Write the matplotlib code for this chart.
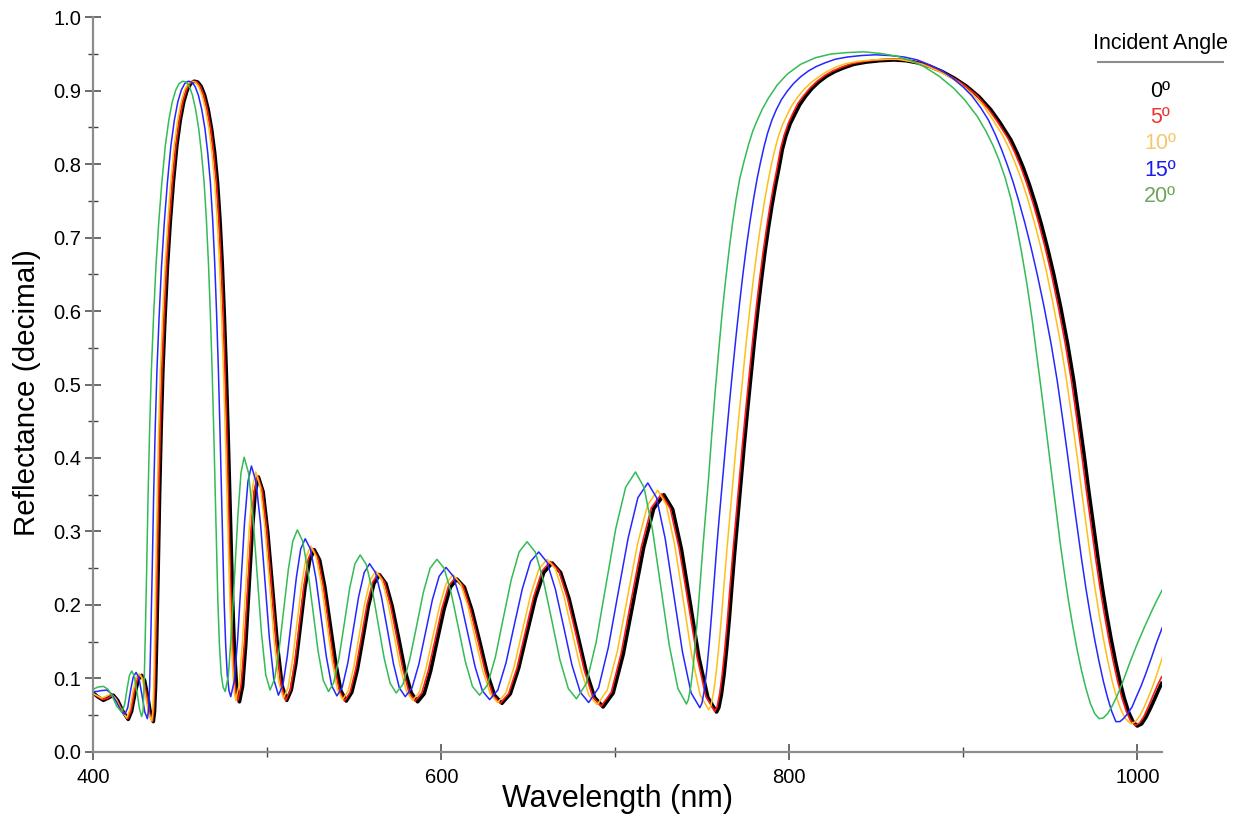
'''Reflectance vs wavelength for several incident angles.'''

from matplotlib import pyplot as plt
from matplotlib.lines import Line2D
from matplotlib.ticker import MultipleLocator, FormatStrFormatter

plt.rcParams['font.family'] = ['Liberation Sans', 'DejaVu Sans']

# ----------------------------------------------------------------------------
# Data (wavelength nm, reflectance)

angle_labels = ['0º', '5º', '10º', '15º', '20º']
line_colors = ['#000000', '#ff1a1a', '#ffbf1a', '#2626ff', '#33bb55']
text_colors = ['#000000', '#ee3333', '#f5c86a', '#1a1aee', '#6fa55a']
line_widths = [2.6, 1.2, 1.1, 1.1, 1.1]

refl_00 = [
    (400, .080), (402.5, .075), (405.8, .070), (408.5, .073), (411.5, .077),
    (414, .070), (417, .055), (420.1, .044), (422, .055), (424, .080),
    (426, .099), (427.8, .104), (429.5, .097), (431.5, .072), (433, .050),
    (434.5, .041),
    (435.2, .055), (435.8, .09), (436.5, .16), (437.3, .25), (438.1, .35),
    (439, .44), (440, .52), (441.2, .59), (442.6, .66), (444.2, .72),
    (446, .775), (448, .825), (450, .860), (452, .885), (454, .901),
    (456, .910), (458, .913), (460, .912), (462, .906), (464, .894),
    (466, .875), (468, .848), (469.8, .815), (471.4, .775), (472.8, .725),
    (474.1, .665), (475.3, .595), (476.4, .52), (477.4, .44), (478.3, .36),
    (479.2, .28), (480.1, .205), (481.1, .14), (482.2, .095), (483.2, .074),
    (484, .068),
    (485.8, .089), (487.6, .145), (489.45, .221), (491.3, .298), (493.1, .354),
    (494.9, .374),
    (497.6, .354), (500.3, .298), (503.05, .222), (505.8, .146), (508.5, .090),
    (511.2, .070),
    (513.8, .084), (516.5, .121), (519.1, .173), (521.7, .224), (524.4, .261),
    (527, .275),
    (530.1, .261), (533.1, .224), (536.2, .172), (539.3, .121), (542.3, .083),
    (545.4, .069),
    (548.6, .081), (551.8, .112), (555.0, .155), (558.1, .198), (561.3, .229),
    (564.5, .241),
    (568.2, .229), (571.8, .198), (575.5, .155), (579.1, .111), (582.8, .080),
    (586.4, .068),
    (590.2, .079), (593.9, .110), (597.7, .152), (601.5, .193), (605.2, .224),
    (609, .235),
    (613.3, .224), (617.6, .193), (622.0, .151), (626.3, .108), (630.6, .077),
    (634.9, .066),
    (639.7, .079), (644.5, .114), (649.3, .162), (654.1, .209), (658.9, .244),
    (663.7, .257),
    (668.6, .244), (673.5, .208), (678.4, .159), (683.2, .110), (688.1, .074),
    (693, .061),
    (698.8, .080), (704.6, .133), (710.5, .206), (716.3, .278), (722.1, .331),
    (727.9, .350),
    (733.0, .330), (738.0, .276), (743.1, .202), (748.1, .128), (753.2, .074),
    (758.2, .054),
    (759.5, .060), (761, .078), (762.5, .105), (764, .140), (765.5, .180),
    (767, .225), (768.5, .268), (770, .308), (772, .36), (774, .415),
    (776, .465), (778, .513), (780, .56), (782, .603), (784, .643),
    (786, .68), (788, .713), (790, .743), (792, .770), (794, .794),
    (796, .820), (798, .838), (800.5, .855), (803, .867), (806, .881),
    (809.5, .893), (813, .903), (817, .912), (821.5, .920), (826, .926),
    (831, .931), (837, .936), (844, .939), (852, .941), (860, .942),
    (867, .941), (874, .938), (881, .933), (888, .926), (895, .917),
    (902, .906), (909, .892), (915.9, .874), (921, .857), (927.4, .833),
    (931, .815), (934.5, .795), (938, .772), (941.5, .746), (945, .717),
    (948.5, .685), (952, .650), (956, .605), (960, .555), (963.5, .505),
    (966.5, .455), (969.5, .403), (972.4, .350), (975, .305), (977.5, .262),
    (980, .222), (982.5, .186), (985, .153), (987.5, .123), (990, .096),
    (992.5, .073), (995, .054), (997.5, .041), (1000, .035), (1002.5, .038),
    (1005, .047), (1007.5, .059), (1010, .072), (1012, .083), (1014, .093),
]

refl_05 = [
    (400, .079), (402.5, .075), (405.5, .071), (408.2, .073), (411, .077),
    (413.7, .070), (416.7, .056), (419.8, .045), (421.7, .056), (423.6, .081),
    (425.5, .100), (427.3, .105), (429, .098), (431, .073), (432.5, .051),
    (434, .041),
    (434.7, .055), (435.3, .09), (436, .16), (436.8, .25), (437.6, .35),
    (438.5, .44), (439.5, .52), (440.7, .59), (442.1, .66), (443.7, .72),
    (445.5, .775), (447.5, .825), (449.5, .860), (451.5, .885), (453.5, .901),
    (455.5, .910), (457.5, .913), (459.5, .912), (461.5, .906), (463.5, .894),
    (465.5, .875), (467.5, .848), (469.2, .815), (470.8, .775), (472.2, .725),
    (473.5, .665), (474.7, .595), (475.7, .52), (476.7, .44), (477.5, .36),
    (478.4, .28), (479.2, .205), (480.2, .14), (481.2, .097), (482.2, .076),
    (483, .069),
    (484.9, .090), (486.8, .146), (488.7, .223), (490.6, .299), (492.5, .355),
    (494.4, .376),
    (497.1, .356), (499.8, .300), (502.5, .223), (505.2, .147), (507.9, .091),
    (510.6, .070),
    (513.2, .084), (515.8, .122), (518.4, .174), (521, .225), (523.6, .263),
    (526.2, .277),
    (529.2, .263), (532.3, .225), (535.3, .173), (538.3, .121), (541.4, .083),
    (544.4, .069),
    (547.6, .081), (550.9, .113), (554.1, .156), (557.3, .200), (560.6, .231),
    (563.8, .243),
    (567.3, .231), (570.8, .200), (574.4, .156), (577.9, .113), (581.4, .081),
    (584.9, .069),
    (588.8, .080), (592.6, .111), (596.5, .153), (600.4, .195), (604.2, .226),
    (608.1, .237),
    (612.4, .226), (616.7, .194), (621, .152), (625.3, .109), (629.6, .077),
    (633.9, .066),
    (638.7, .079), (643.5, .114), (648.3, .163), (653.1, .211), (657.9, .246),
    (662.7, .259),
    (667.6, .246), (672.4, .210), (677.3, .161), (682.2, .111), (687.0, .075),
    (691.9, .062),
    (697.7, .081), (703.4, .134), (709.2, .207), (715, .279), (720.7, .332),
    (726.5, .351),
    (731.6, .331), (736.7, .277), (741.9, .203), (747, .129), (752.1, .075),
    (757.2, .055),
    (758.5, .061), (760, .079), (761.5, .106), (763, .141), (764.5, .181),
    (766, .226), (767.5, .269), (769, .309), (771, .361), (773, .416),
    (775, .466), (777, .514), (779, .561), (781, .604), (783, .644),
    (785, .681), (787, .714), (789, .744), (791, .771), (793, .795),
    (795, .821), (797, .839), (799.5, .856), (802, .869), (805, .883),
    (808.5, .894), (812, .904), (816, .913), (820.5, .921), (825, .927),
    (830, .932), (836, .937), (843, .940), (851, .942), (859, .943),
    (866, .942), (873, .939), (880, .934), (887, .927), (894, .918),
    (901, .907), (908, .893), (914.5, .875), (919.6, .858), (926, .834),
    (929.6, .816), (933.1, .796), (936.6, .773), (940.1, .747), (943.6, .718),
    (947.1, .686), (950.6, .651), (954.6, .606), (958.6, .556), (962.1, .506),
    (965.1, .456), (968.1, .404), (971, .351), (973.6, .306), (976.1, .263),
    (978.6, .223), (981.1, .187), (983.6, .154), (986.1, .124), (988.6, .097),
    (991.1, .074), (993.7, .055), (996.2, .042), (998.8, .036), (1001.3, .039),
    (1003.8, .048), (1006.3, .061), (1008.8, .075), (1011.3, .089), (1014, .102),
]

refl_10 = [
    (400, .079), (402.5, .076), (405, .073), (407.7, .076), (410.4, .079),
    (413, .072), (416, .057), (419.2, .046), (421, .057), (422.8, .082),
    (424.7, .101), (426.5, .106), (428.2, .099), (430.2, .074), (431.8, .052),
    (433.6, .042),
    (434.2, .055), (434.8, .09), (435.3, .16), (436, .25), (436.8, .35),
    (437.6, .44), (438.6, .52), (439.8, .59), (441.2, .66), (442.8, .72),
    (444.5, .775), (446.5, .825), (448.5, .860), (450.5, .885), (452.5, .901),
    (454.5, .910), (456.5, .913), (458.5, .912), (460.5, .906), (462.5, .894),
    (464.5, .875), (466.5, .848), (468.2, .815), (469.8, .775), (471.2, .725),
    (472.5, .665), (473.7, .595), (474.8, .52), (475.8, .44), (476.7, .36),
    (477.6, .28), (478.5, .205), (479.4, .145), (480.3, .104), (481.1, .080),
    (481.9, .070),
    (483.8, .091), (485.7, .148), (487.65, .226), (489.6, .303), (491.5, .360),
    (493.4, .381),
    (496.05, .360), (498.7, .304), (501.35, .227), (504, .150), (506.65, .094),
    (509.3, .073),
    (511.9, .087), (514.5, .125), (517.15, .177), (519.8, .228), (522.4, .266),
    (525, .280),
    (528.05, .266), (531.1, .228), (534.15, .176), (537.2, .124), (540.25, .085),
    (543.3, .071),
    (546.5, .083), (549.7, .115), (552.85, .159), (556, .202), (559.2, .234),
    (562.4, .246),
    (565.9, .234), (569.4, .202), (572.95, .158), (576.5, .114), (580, .082),
    (583.5, .070),
    (587.4, .081), (591.2, .113), (595.1, .156), (599, .198), (602.8, .229),
    (606.7, .241),
    (611, .229), (615.3, .198), (619.55, .154), (623.8, .111), (628.1, .079),
    (632.4, .067),
    (637.1, .080), (641.9, .116), (646.6, .165), (651.3, .213), (656.1, .249),
    (660.8, .262),
    (665.6, .249), (670.4, .213), (675.2, .163), (680, .114), (684.8, .077),
    (689.6, .064),
    (695.4, .084), (701.2, .137), (707, .210), (712.8, .283), (718.6, .336),
    (724.4, .356),
    (729.3, .336), (734.2, .281), (739.05, .207), (743.9, .132), (748.8, .077),
    (753.7, .057),
    (755, .063), (756.5, .081), (758, .108), (759.5, .143), (761, .183),
    (762.5, .228), (764, .271), (765.5, .311), (767.5, .363), (769.5, .418),
    (771.5, .468), (773.5, .516), (775.5, .563), (777.5, .606), (779.5, .646),
    (781.5, .683), (783.5, .716), (785.5, .746), (787.5, .773), (789.5, .797),
    (791.5, .818), (793.5, .836), (796, .853), (798.5, .866), (801.5, .880),
    (805, .892), (808.5, .902), (812.5, .911), (817, .919), (821.5, .926),
    (826.5, .932), (832.5, .937), (839.5, .940), (847.5, .942), (855.5, .943),
    (862.5, .943), (869.5, .940), (876.5, .936), (883.5, .929), (890.5, .921),
    (897.5, .911), (904.5, .897), (911.5, .880), (916.6, .862), (923, .838),
    (926.6, .820), (930.1, .800), (933.6, .778), (937.1, .752), (940.6, .723),
    (944.1, .691), (947.6, .656), (951.6, .610), (955.6, .560), (959.1, .510),
    (962.1, .460), (965.1, .408), (968, .355), (970.6, .309), (973.1, .265),
    (975.6, .224), (978.1, .187), (980.6, .153), (983.1, .123), (985.6, .096),
    (988.1, .074), (990.6, .057), (993.2, .045), (996.3, .038), (999, .041),
    (1001.5, .049), (1004, .061), (1006.5, .075), (1009, .090), (1011.5, .107),
    (1014.5, .129),
]

refl_15 = [
    (400, .082), (402, .082), (404, .083), (407.7, .084), (410.5, .079),
    (413.5, .067), (416, .056), (418.2, .051), (419.8, .060), (421.4, .083),
    (423, .102), (424.6, .108), (426.2, .101), (428, .077), (429.6, .054),
    (431.1, .045),
    (431.8, .058), (432.4, .09), (433.1, .16), (433.9, .25), (434.7, .35),
    (435.6, .44), (436.6, .52), (437.8, .59), (439.2, .66), (440.8, .72),
    (442.6, .775), (444.6, .825), (446.6, .860), (448.6, .885), (450.6, .901),
    (452.6, .910), (454.6, .913), (456.6, .912), (458.5, .906), (460.4, .894),
    (462.3, .875), (464.2, .848), (465.8, .815), (467.3, .775), (468.6, .725),
    (469.8, .665), (470.9, .595), (471.9, .52), (472.8, .44), (473.6, .36),
    (474.4, .28), (475.2, .205), (476.1, .145), (477, .105), (478, .083),
    (479, .075),
    (481, .096), (483, .154), (484.95, .232), (486.9, .311), (488.9, .368),
    (490.9, .389),
    (493.5, .368), (496.1, .311), (498.65, .233), (501.2, .155), (503.8, .098),
    (506.4, .077),
    (509, .091), (511.5, .130), (514.1, .184), (516.7, .237), (519.2, .276),
    (521.8, .290),
    (524.8, .276), (527.9, .237), (530.9, .183), (533.9, .130), (537, .090),
    (540, .076),
    (543.1, .088), (546.3, .121), (549.4, .166), (552.5, .211), (555.7, .244),
    (558.8, .256),
    (562.2, .244), (565.6, .211), (569.05, .166), (572.5, .120), (575.9, .087),
    (579.3, .075),
    (583.2, .087), (587.1, .119), (591, .163), (594.9, .207), (598.8, .239),
    (602.7, .251),
    (606.9, .239), (611.1, .206), (615.25, .161), (619.4, .116), (623.6, .083),
    (627.8, .071),
    (632.5, .084), (637.2, .121), (641.9, .172), (646.6, .222), (651.3, .259),
    (656, .272),
    (660.8, .258), (665.6, .221), (670.35, .170), (675.1, .118), (679.9, .081),
    (684.7, .067),
    (690.4, .087), (696, .142), (701.7, .217), (707.4, .291), (713, .346),
    (718.7, .366),
    (723.7, .346), (728.7, .290), (733.65, .213), (738.6, .136), (743.6, .080),
    (748.6, .060),
    (749.8, .066), (751.2, .084), (752.6, .112), (754, .148), (755.4, .188),
    (756.8, .232), (758.2, .275), (759.6, .315), (761.5, .367), (763.5, .420),
    (765.5, .472), (767.5, .521), (769.5, .568), (771.5, .612), (773.5, .653),
    (775.5, .690), (777.5, .723), (779.5, .753), (781.5, .780), (783.5, .803),
    (785.5, .824), (787.5, .842), (790, .860), (792.5, .874), (795.5, .888),
    (799, .900), (802.5, .910), (806.5, .919), (811, .927), (815.5, .933),
    (820.5, .938), (826.5, .943), (833.5, .946), (841.5, .948), (849.5, .949),
    (858, .948), (866, .946), (873.6, .942), (881, .935), (888, .927),
    (894, .917), (900, .905), (905, .893), (910, .877), (914.5, .860),
    (918.5, .840), (922, .820), (925.3, .799), (928.6, .776), (932, .749),
    (935.5, .719), (939, .686), (942.5, .650), (946.5, .605), (950.5, .555),
    (954, .505), (957, .455), (960, .403), (962.9, .350), (965.5, .305),
    (968, .262), (970.5, .222), (973, .186), (975.5, .153), (978, .123),
    (980.5, .096), (983, .073), (985.3, .055), (987.7, .041), (990, .041),
    (992, .045), (994.5, .052), (997, .061), (999.5, .075), (1002.1, .089),
    (1005, .107), (1008, .127), (1011, .148), (1014.5, .170),
]

refl_20 = [
    (400, .085), (402.5, .088), (405.8, .089), (408.5, .085), (411, .075),
    (413.5, .062), (416.3, .054), (418, .064), (419.5, .087), (420.8, .104),
    (422.1, .110), (423.6, .103), (425.2, .080), (426.6, .058), (427.8, .048),
    (428.6, .055), (429.2, .09), (429.9, .16), (430.7, .25), (431.5, .35),
    (432.4, .44), (433.4, .52), (434.6, .59), (436, .66), (437.6, .72),
    (439.4, .775), (441.4, .825), (443.4, .860), (445.4, .885), (447.4, .901),
    (449.4, .910), (451.4, .913), (453.4, .912), (455.2, .906), (457, .894),
    (458.8, .875), (460.6, .848), (462.2, .815), (463.7, .775), (465, .725),
    (466.2, .665), (467.3, .595), (468.3, .52), (469.2, .44), (470, .36),
    (470.8, .28), (471.6, .205), (472.5, .145), (473.5, .106), (474.6, .088),
    (475.8, .082),
    (477.6, .103), (479.4, .162), (481.25, .242), (483.1, .321), (484.9, .380),
    (486.7, .401),
    (489.2, .380), (491.7, .322), (494.15, .243), (496.6, .163), (499.1, .105),
    (501.6, .084),
    (504.2, .099), (506.8, .139), (509.45, .193), (512.1, .248), (514.7, .287),
    (517.3, .302),
    (520.3, .287), (523.3, .247), (526.25, .192), (529.2, .137), (532.2, .097),
    (535.2, .082),
    (538.2, .094), (541.3, .129), (544.3, .175), (547.3, .222), (550.4, .256),
    (553.4, .268),
    (556.85, .255), (560.3, .221), (563.75, .174), (567.2, .127), (570.65, .093),
    (574.1, .080),
    (578, .092), (581.9, .126), (585.8, .171), (589.7, .217), (593.6, .250),
    (597.5, .262),
    (601.6, .250), (605.7, .216), (609.75, .170), (613.8, .123), (617.9, .089),
    (622, .077),
    (626.55, .091), (631.1, .129), (635.65, .182), (640.2, .234), (644.75, .272),
    (649.3, .286),
    (654, .272), (658.8, .232), (663.5, .179), (668.2, .125), (673, .086),
    (677.7, .072),
    (683.35, .093), (689, .149), (694.65, .227), (700.3, .304), (705.95, .360),
    (711.6, .381),
    (716.5, .360), (721.4, .302), (726.25, .223), (731.1, .144), (736, .086),
    (740.9, .065),
    (742, .071), (743.4, .089), (744.8, .117), (746.2, .153), (747.6, .193),
    (749, .237), (750.4, .28), (751.8, .32), (753.6, .372), (755.4, .43),
    (757.4, .49), (759.4, .545), (761.4, .597), (763.4, .642), (765.4, .683),
    (767.4, .720), (769.4, .752), (771.5, .780), (773.9, .803), (776.5, .826),
    (779, .845), (781.6, .860), (784.5, .875), (788, .890), (793.1, .908),
    (799, .923), (806.5, .936), (815, .945), (823.8, .950), (833, .952),
    (843, .953), (852, .951), (862.1, .947), (870, .941), (877.4, .933),
    (886, .920), (894.7, .903), (901, .887), (908.1, .865), (913, .845),
    (917, .826), (920.5, .806), (924, .782), (927.5, .752), (930.5, .718),
    (933.5, .680), (936.5, .638), (939.5, .590), (942.5, .535), (945.2, .485),
    (947.8, .435), (950.4, .385), (953, .335), (955.5, .288), (958, .245),
    (960.5, .205), (963, .170), (965.5, .138), (968, .110), (970.5, .086),
    (973, .066), (975.5, .052), (978.1, .045), (980.5, .046), (983, .052),
    (985.5, .062), (988, .074), (990.5, .088), (993, .104), (996.3, .125),
    (1000, .147), (1004, .169), (1008, .190), (1011, .205), (1014.5, .221),
]

series = [refl_00, refl_05, refl_10, refl_15, refl_20]

# ----------------------------------------------------------------------------


def main():

    fig = plt.figure(figsize=(12.42, 8.14), dpi=100)
    ax = fig.add_axes([0.0751, 0.0765, 0.8602, 0.9022])

    for pts, col, lw in zip(series, line_colors, line_widths):
        wl = [p[0] for p in pts]
        refl = [p[1] for p in pts]
        ax.plot(wl, refl, color=col, linewidth=lw, solid_joinstyle='round')

    ax.set_xlim(400, 1014)
    ax.set_ylim(0, 1.0)
    ax.xaxis.set_major_locator(MultipleLocator(200))
    ax.xaxis.set_minor_locator(MultipleLocator(100))
    ax.yaxis.set_major_locator(MultipleLocator(0.1))
    ax.yaxis.set_minor_locator(MultipleLocator(0.05))
    ax.yaxis.set_major_formatter(FormatStrFormatter('%.1f'))

    for side in ['top', 'right']:
        ax.spines[side].set_visible(False)
    for side in ['left', 'bottom']:
        ax.spines[side].set_color('#8c8c8c')
        ax.spines[side].set_linewidth(1.6)

    ax.tick_params(which='major', direction='inout', length=11, width=1.1,
                   color='#444444', labelsize=14.5, pad=3)
    ax.tick_params(which='minor', direction='inout', length=7, width=1.0,
                   color='#444444')
    ax.tick_params(axis='x', which='major', pad=6)

    fig.text(0.0215, 0.518, 'Reflectance (decimal)', rotation=90,
             ha='center', va='center', fontsize=21.3)
    fig.text(0.497, 0.019, 'Wavelength (nm)', ha='center', va='center',
             fontsize=22)

    # Legend drawn as text
    fig.text(0.934, 0.946, 'Incident Angle', ha='center', va='center',
             fontsize=15.5)
    fig.add_artist(Line2D([0.8838, 0.9845], [0.9235, 0.9235],
                          color='#8c8c8c', linewidth=1.5))
    label_y = [0.8873, 0.8555, 0.8235, 0.7905, 0.7584]
    for lab, col, yy in zip(angle_labels, text_colors, label_y):
        fig.text(0.934, yy, lab, ha='center', va='center', fontsize=15.5,
                 color=col)

    fig.savefig('out.png', dpi=100)

    return None

# ----------------------------------------------------------------------------


if __name__ == "__main__":
    main()
